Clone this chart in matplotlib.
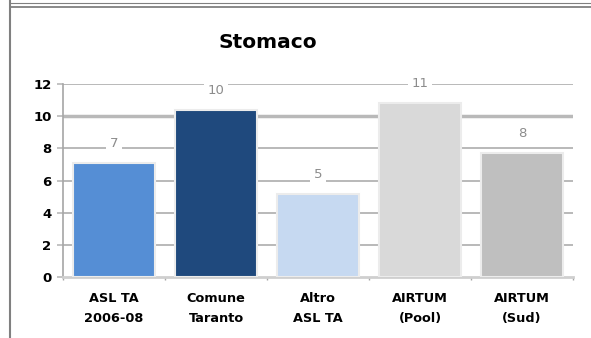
import matplotlib
matplotlib.use("Agg")
import matplotlib.pyplot as plt
from matplotlib.lines import Line2D

# data
categories = ["ASL TA\n2006-08", "Comune\nTaranto", "Altro\nASL TA", "AIRTUM\n(Pool)", "AIRTUM\n(Sud)"]
values = [7.1, 10.4, 5.15, 10.8, 7.7]
bar_colors = ["#558ED5", "#1F497D", "#C6D9F1", "#D9D9D9", "#BFBFBF"]
y_ticks = [0, 2, 4, 6, 8, 10, 12]

W, H = 591, 338
fig = plt.figure(figsize=(W / 100, H / 100), dpi=100)

# axes placed in pixel terms
left, right, top, bottom = 63, 573, 84, 277
ax = fig.add_axes([left / W, 1 - bottom / H, (right - left) / W, (bottom - top) / H])

x = list(range(len(categories)))
bars = ax.bar(x, values, width=0.8, color=bar_colors, edgecolor="#ececec", linewidth=1.5, zorder=3)

ax.set_xlim(-0.5, len(categories) - 0.5)
ax.set_ylim(0, 12)

# gridlines
for t in y_ticks[1:]:
    lw = 2.5 if t == 10 else 1.4
    ax.axhline(t, color="#b9b9b9", lw=lw, zorder=1)

for s in ["top", "right"]:
    ax.spines[s].set_visible(False)
ax.spines["left"].set_color("#a6a6a6")
ax.spines["left"].set_linewidth(1.2)
ax.spines["bottom"].set_color("#cfcfcf")
ax.spines["bottom"].set_linewidth(2)

ax.set_yticks(y_ticks)
ax.set_yticklabels([str(t) for t in y_ticks], fontsize=9.5, fontweight="bold")
ax.tick_params(axis="y", length=4.3, width=1.2, color="#b9b9b9", pad=4)

ax.set_xticks(x)
ax.set_xticklabels(categories, fontsize=9.3, fontweight="bold", linespacing=1.7)
ax.tick_params(axis="x", which="major", length=0, pad=11)
ax.set_xticks([i - 0.5 for i in range(len(categories) + 1)], minor=True)
ax.tick_params(axis="x", which="minor", length=2.5, width=1, color="#a6a6a6")

# value labels above the bars
for b, v in zip(bars, values):
    ax.annotate(str(round(v)), (b.get_x() + b.get_width() / 2, v),
                xytext=(0, 14), textcoords="offset points",
                ha="center", va="center", fontsize=9.5, color="#8c8c8c",
                bbox=dict(boxstyle="square,pad=0.25", fc="white", ec="none"), zorder=4)

fig.text(268 / W, 1 - 42 / H, "Stomaco", ha="center", va="center",
         fontsize=14.5, fontweight="bold")

# outer frame lines
fig.add_artist(Line2D([10 / W, 10 / W], [0, 1], transform=fig.transFigure, color="#808080", lw=1.5))
fig.add_artist(Line2D([10 / W, 1], [1 - 3 / H, 1 - 3 / H], transform=fig.transFigure, color="#808080", lw=0.8))
fig.add_artist(Line2D([10 / W, 1], [1 - 6.5 / H, 1 - 6.5 / H], transform=fig.transFigure, color="#808080", lw=1.3))

fig.savefig("out.png", dpi=100)
